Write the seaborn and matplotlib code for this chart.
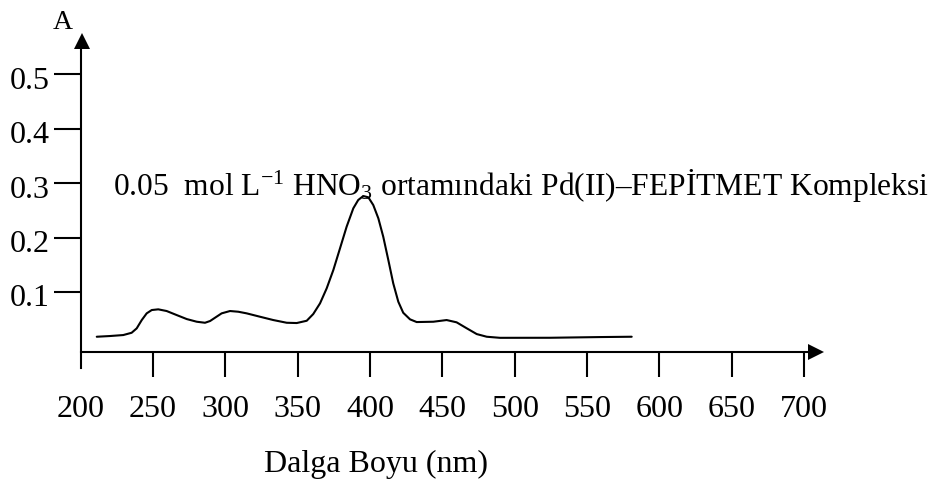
import numpy as np
import pandas as pd
import matplotlib
matplotlib.use("Agg")
import matplotlib.pyplot as plt
import matplotlib.transforms as mtransforms
import seaborn as sns

# ---- data ----
wavelength = [211.1, 220.2, 229.4, 235.2, 238.7, 242.2, 245.6, 249.1, 253.6, 259.4,
              266.3, 273.3, 280.2, 285.9, 289.4, 292.8, 297.4, 303.2, 308.9, 314.7,
              323.9, 333.1, 342.4, 349.3, 356.2, 360.7, 365.4, 370.0, 374.6, 379.2,
              383.8, 388.4, 391.8, 395.3, 398.8, 402.2, 405.7, 409.1, 412.6, 416.0,
              419.5, 422.9, 427.6, 432.2, 443.7, 452.9, 459.8, 466.8, 473.7, 480.6,
              489.8, 524.3, 558.9, 580.8]
absorbance = [0.0175, 0.0188, 0.0206, 0.0248, 0.0329, 0.0482, 0.0605, 0.0666, 0.0679, 0.0648,
              0.0574, 0.0500, 0.0451, 0.0432, 0.0464, 0.0524, 0.0605, 0.0648, 0.0635, 0.0605,
              0.0543, 0.0482, 0.0432, 0.0427, 0.0469, 0.0592, 0.0789, 0.1065, 0.1402, 0.1800,
              0.2200, 0.2537, 0.2690, 0.2763, 0.2739, 0.2597, 0.2353, 0.2014, 0.1586, 0.1157,
              0.0819, 0.0616, 0.0495, 0.0445, 0.0451, 0.0482, 0.0440, 0.0330, 0.0224, 0.0175,
              0.0155, 0.0156, 0.0169, 0.0175]
x_ticks = [200, 250, 300, 350, 400, 450, 500, 550, 600, 650, 700]
y_ticks = [0.1, 0.2, 0.3, 0.4, 0.5]
y_tick_labels = ["0.1", "0.2", "0.3", "0.4", "0.5"]
title_text = "0.05  mol L$^{\\mathrm{-1}}$ HNO$_{\\mathrm{3}}$ ortamındaki Pd(II)–FEPİTMET Kompleksi"
x_label = "Dalga Boyu (nm)"
y_label = "A"

df = pd.DataFrame({"nm": wavelength, "A": absorbance})

sns.set_theme(style="white")
plt.rcParams["font.family"] = ["Liberation Serif", "DejaVu Serif"]
plt.rcParams["mathtext.fontset"] = "custom"
plt.rcParams["mathtext.rm"] = "Liberation Serif"
plt.rcParams["mathtext.it"] = "Liberation Serif:italic"
plt.rcParams["mathtext.bf"] = "Liberation Serif:bold"
plt.rcParams["text.color"] = "black"

W, H = 936, 480
fig = plt.figure(figsize=(W / 100, H / 100), dpi=100)
fig.patch.set_facecolor("white")

xl, xr = 80.7, 824.0
yb, yt = 368.0, 33.3
ax = fig.add_axes([xl / W, 1 - yb / H, (xr - xl) / W, (yb - yt) / H])
ax.set_facecolor("white")

x_min, x_max = 200, 713.7
y_min, y_max = -0.040, 0.5756
y_axis = -0.0101

sns.lineplot(data=df, x="nm", y="A", ax=ax, color="black", linewidth=1.5,
             sort=False, estimator=None)

ax.set_xlim(x_min, x_max)
ax.set_ylim(y_min, y_max)

for s in ["top", "right"]:
    ax.spines[s].set_visible(False)
ax.spines["bottom"].set_position(("data", y_axis))
ax.spines["left"].set_position(("data", x_min))
for s in ["bottom", "left"]:
    ax.spines[s].set_color("black")
    ax.spines[s].set_linewidth(1.5)
ax.spines["bottom"].set_bounds(x_min, x_max - 8 / 1.447)
ax.spines["left"].set_bounds(y_min, y_max - 8 / 543.6)

ax.set_xticks(x_ticks)
ax.set_xticklabels([str(v) for v in x_ticks])
ax.set_yticks(y_ticks)
ax.set_yticklabels(y_tick_labels)
ax.tick_params(axis="x", direction="out", length=18, width=1.5, pad=13.5,
               labelsize=23, colors="black", bottom=True)
ax.tick_params(axis="y", direction="out", length=19.4, width=1.5, pad=2.8,
               labelsize=23, colors="black", left=True)
ax.xaxis.get_major_ticks()[0].tick1line.set_visible(False)
for lab in ax.get_yticklabels():
    lab.set_transform(lab.get_transform() +
                      mtransforms.ScaledTranslation(0, -0.035, fig.dpi_scale_trans))
ax.set_xlabel("")
ax.set_ylabel("")
ax.grid(False)

# arrow heads
ax.plot([1], [y_axis], marker=">", ms=11.5, color="black", mew=0, clip_on=False,
        transform=ax.get_yaxis_transform() +
        mtransforms.ScaledTranslation(-0.08, 0, fig.dpi_scale_trans))
ax.plot([x_min], [1], marker="^", ms=11.5, color="black", mew=0, clip_on=False,
        transform=ax.get_xaxis_transform() +
        mtransforms.ScaledTranslation(0.01, -0.08, fig.dpi_scale_trans))

# texts
fig.text(62.7 / W, 1 - 29.3 / H, y_label, ha="center", va="baseline", fontsize=20,
         color="black")
fig.text(113 / W, 1 - 195 / H, title_text, ha="left", va="baseline", fontsize=22.7,
         color="black")
fig.text(376 / W, 1 - 471.7 / H, x_label, ha="center", va="baseline", fontsize=23,
         color="black")

fig.savefig("out.png", dpi=100, facecolor="white")
